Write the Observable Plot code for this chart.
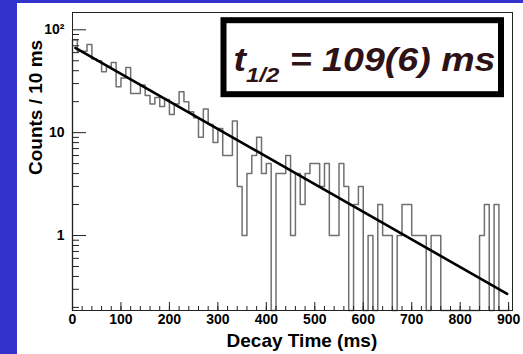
<!DOCTYPE html>
<html><head><meta charset="utf-8">
<script src="https://cdn.jsdelivr.net/npm/d3@7"></script>
<script src="https://cdn.jsdelivr.net/npm/@observablehq/plot@0.6"></script>
<style>
html,body{margin:0;padding:0;background:#3333cc;width:523px;height:354px;overflow:hidden}
#panel{position:absolute;left:17px;top:3px;width:506px;height:351px;background:#fff}
</style></head><body><div id="panel"></div>
<script>
// ---- data ----
const binWidth = 10; // ms per bin
const counts = [
  80, 62, 62, 72, 52, 50, 39, 44, 48, 28,
  34, 43, 24, 24, 29, 23, 19, 22, 18, 21,
  15, 19, 25, 20, 16, 14,  9, 17, 12,  8,
  11,  6,  6, 13,  3,  1,  4,  6,  9,  4,
   5,  0,  4,  4,  6,  1,  4,  2,  4,  5,
   5,  3,  5,  1,  1,  5,  3,  0,  2,  3,
   0,  1,  0,  2,  1,  1,  0,  1,  2,  2,
   1,  1,  1,  0,  1,  1,  0,  0,  0,  0,
   0,  0,  0,  0,  1,  2,  0,  2,  0,  0
];
const fitTime = [6, 897];
const fitCounts = [66.8, 0.271];
const xTicks = [0, 100, 200, 300, 400, 500, 600, 700, 800, 900];
const xMinorTicks = d3.range(0, 901, 20);
const yTicks = [1, 10, 100];
const yTickLabels = ["1", "10", "10\u00B2"];
const yMinorTicks = [0.2,0.3,0.4,0.5,0.6,0.7,0.8,0.9,2,3,4,5,6,7,8,9,20,30,40,50,60,70,80,90];
const xDomain = [0, 908];
const yDomain = [0.1866, 147.3];
const xTitle = "Decay Time (ms)";
const yTitle = "Counts / 10 ms";
const halfLifeParts = ["t", "1/2", " = 109(6) ms"];

// ---- build ----
const W = 506, H = 351, mL = 55, mT = 9, mR = 11, mB = 44;
const frameW = W - mL - mR, frameH = H - mT - mB;
const yMin = yDomain[0];
const histPath = [{t: 0, n: yMin}]
  .concat(counts.map((c, i) => ({t: i * binWidth, n: c > 0 ? c : yMin})))
  .concat([{t: counts.length * binWidth, n: yMin}]);
const fit = fitTime.map((t, i) => ({t, n: fitCounts[i]}));
const halfLifeLabel = halfLifeParts.join("");

const chart = Plot.plot({
  width: W, height: H,
  marginLeft: mL, marginTop: mT, marginRight: mR, marginBottom: mB,
  style: {fontFamily: "'Liberation Sans', Arial, Helvetica, sans-serif", fontSize: "14px", fontWeight: "bold", background: "white", color: "black", overflow: "visible"},
  x: {domain: xDomain, label: null},
  y: {type: "log", domain: yDomain, label: null},
  marks: [
    Plot.line(histPath, {x: "t", y: "n", curve: "step-after", stroke: "#707070", strokeWidth: 1.5}),
    Plot.line(fit, {x: "t", y: "n", stroke: "#000", strokeWidth: 2.6}),
    Plot.tickX(xMinorTicks, {x: d => d, insetTop: frameH - 4, stroke: "#222"}),
    Plot.tickX(xTicks, {x: d => d, insetTop: frameH - 8, stroke: "#222"}),
    Plot.tickY(yMinorTicks, {y: d => d, insetRight: frameW - 7, stroke: "#222"}),
    Plot.tickY(yTicks, {y: d => d, insetRight: frameW - 14, stroke: "#222"}),
    Plot.axisX({ticks: xTicks, tickSize: 0, tickPadding: 4, tickFormat: d => String(d), fontSize: 14, fontWeight: "bold", label: null}),
    Plot.axisY({ticks: yTicks, tickSize: 0, tickPadding: 8, tickFormat: d => yTickLabels[yTicks.indexOf(d)], fontSize: 14, fontWeight: "bold", label: null}),
    Plot.frame({stroke: "#222", strokeWidth: 1}),
    Plot.frame({insetLeft: 151, insetTop: 7.7, insetRight: 11.5, insetBottom: 216.3, stroke: "#000", strokeWidth: 6, fill: "white"}),
    Plot.text([halfLifeLabel], {frameAnchor: "top-left", dx: 161, dy: 58, lineAnchor: "bottom", textAnchor: "start", fontSize: 33, fontWeight: "bold", fontStyle: "italic", fill: "#2e1216"}),
    Plot.text([xTitle], {frameAnchor: "bottom", dx: 9.4, dy: 36.5, lineAnchor: "bottom", fontSize: 19, fontWeight: "bold"}),
    Plot.text([yTitle], {frameAnchor: "left", rotate: -90, dx: -30.3, dy: 13.5, lineAnchor: "bottom", fontSize: 19, fontWeight: "bold"})
  ]
});

// rich text for the half-life label (subscript)
const NS = "http://www.w3.org/2000/svg";
for (const t of chart.querySelectorAll("text")) {
  if (t.textContent === halfLifeLabel) {
    t.textContent = "";
    t.setAttribute("style", "white-space:pre");
    const add = (s, attrs) => {
      const ts = document.createElementNS(NS, "tspan");
      ts.textContent = s;
      for (const k in attrs) ts.setAttribute(k, attrs[k]);
      t.appendChild(ts);
    };
    add(halfLifeParts[0], {});
    add(halfLifeParts[1], {"font-size": 21, dy: 11.5});
    add(halfLifeParts[2], {dy: -11.5});
    t.setAttribute("textLength", 262);
    t.setAttribute("lengthAdjust", "spacingAndGlyphs");
  }
}
document.getElementById("panel").appendChild(chart);
</script>
</body></html>
